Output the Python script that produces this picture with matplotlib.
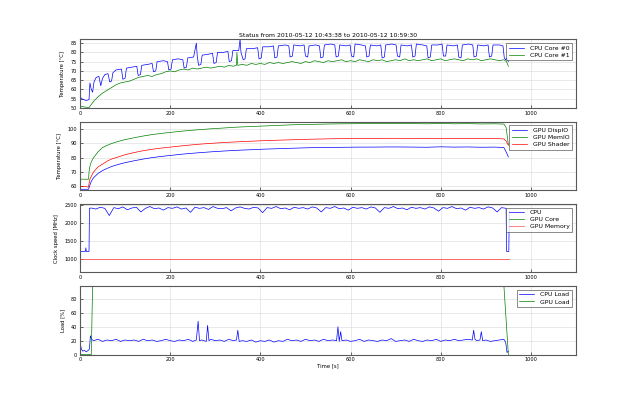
"""CPU/GPU status plot, 2010-05-12 10:43:38 to 10:59:30."""
import matplotlib
matplotlib.use('Agg')
import matplotlib.pyplot as plt

TITLE = 'Status from 2010-05-12 10:43:38 to 2010-05-12 10:59:30'

# --- panel 1: CPU core temperatures ---
core0_t = [0, 4, 8, 14, 20, 22, 25, 28, 31, 36, 42, 46, 50, 55, 62, 66, 70,
           73, 80, 92, 95, 100, 103, 115, 126, 129, 134, 137, 150, 160, 163,
           168, 171, 185, 194, 197, 202, 205, 218, 228, 231, 236, 239, 252,
           258, 260, 263, 268, 271, 285, 294, 297, 302, 305, 318, 328, 331,
           336, 339, 352, 355, 357, 362, 366, 369, 383, 394, 397, 402, 405,
           420, 429, 432, 437, 440, 455, 463, 466, 471, 474, 488, 497, 500,
           505, 508, 522, 531, 534, 539, 542, 556, 565, 568, 573, 576, 590,
           599, 602, 607, 610, 624, 633, 636, 641, 644, 658, 667, 670, 675,
           678, 692, 701, 704, 709, 712, 726, 735, 738, 743, 746, 760, 769,
           772, 777, 780, 794, 803, 806, 811, 814, 828, 837, 840, 845, 848,
           862, 871, 874, 879, 882, 896, 905, 908, 913, 916, 930, 938, 941,
           944, 947, 950]
core0_v = [56.0, 55.0, 54.5, 54.0, 54.5, 63.5, 60.0, 58.5, 64.0, 66.5, 67.0,
           62.0, 66.0, 68.0, 68.5, 64.0, 64.5, 69.0, 70.5, 71.0, 65.5, 66.0,
           71.5, 72.0, 72.5, 67.5, 68.0, 73.0, 73.5, 74.0, 69.5, 70.0, 75.0,
           75.5, 75.0, 70.5, 71.0, 76.0, 76.5, 76.0, 71.5, 72.0, 77.0, 77.5,
           85.0, 78.0, 73.0, 73.5, 78.5, 79.0, 79.5, 74.0, 74.5, 80.0, 80.0,
           80.5, 75.0, 75.5, 81.0, 81.0, 87.0, 80.0, 76.0, 76.5, 82.0, 82.0,
           82.5, 76.5, 77.0, 83.0, 83.0, 83.5, 77.0, 77.5, 83.5, 84.0, 83.5,
           77.5, 78.0, 84.0, 83.5, 84.0, 78.0, 77.5, 83.5, 84.0, 83.5, 77.0,
           77.5, 84.0, 84.5, 84.0, 77.5, 78.0, 84.0, 83.5, 84.0, 78.0, 77.5,
           84.5, 84.0, 83.5, 77.5, 78.0, 84.0, 83.5, 84.0, 77.0, 77.5, 84.0,
           84.5, 84.0, 78.0, 77.5, 84.0, 83.5, 84.0, 77.5, 78.0, 84.5, 84.0,
           83.5, 77.0, 77.5, 84.0, 84.0, 84.5, 78.0, 78.0, 84.0, 83.5, 84.0,
           77.5, 77.0, 84.0, 84.5, 84.0, 77.5, 78.0, 84.0, 83.5, 84.0, 77.5,
           78.0, 84.0, 84.0, 83.5, 77.0, 76.0, 77.0, 75.0]

core1_t = [0, 10, 20, 30, 40, 50, 60, 70, 80, 90, 100, 110, 120, 130, 140,
           150, 160, 170, 180, 190, 200, 210, 220, 230, 240, 250, 260, 270,
           280, 290, 300, 310, 320, 330, 340, 347, 348, 350, 360, 370, 380,
           390, 400, 410, 420, 430, 440, 450, 460, 470, 480, 490, 500, 510,
           520, 530, 540, 550, 560, 570, 580, 590, 600, 610, 620, 630, 640,
           650, 660, 670, 680, 690, 700, 710, 720, 730, 740, 750, 760, 770,
           780, 790, 800, 810, 820, 830, 840, 850, 860, 870, 880, 890, 900,
           910, 920, 930, 940, 946, 950]
core1_v = [51.0, 50.5, 50.2, 53.5, 56.0, 58.0, 59.5, 61.0, 62.5, 63.5, 64.0,
           64.5, 65.5, 66.5, 67.0, 67.5, 67.0, 68.0, 68.5, 69.5, 70.0, 69.5,
           70.5, 71.0, 70.5, 71.5, 71.0, 71.5, 72.0, 71.5, 72.0, 72.5, 72.0,
           73.0, 72.5, 73.0, 80.0, 73.0, 73.5, 73.0, 74.0, 73.5, 74.0, 73.5,
           74.5, 74.0, 74.5, 74.0, 74.5, 75.0, 74.5, 74.0, 75.0, 74.5, 75.5,
           75.0, 74.5, 75.5, 75.0, 75.5, 76.0, 75.0, 75.5, 75.0, 76.0, 75.5,
           75.0, 76.0, 75.5, 76.0, 75.0, 75.5, 76.0, 75.5, 76.5, 75.5, 76.0,
           75.5, 76.0, 76.5, 75.5, 76.0, 76.5, 75.5, 76.0, 76.5, 76.0, 75.5,
           76.5, 76.0, 76.5, 75.5, 76.0, 76.5, 76.0, 75.5, 76.0, 75.0, 72.5]

# --- panel 2: GPU temperatures ---
gpu_t = [0, 10, 19, 20, 22, 25, 30, 40, 50, 60, 70, 80, 90, 100, 120, 140,
         160, 180, 200, 230, 260, 290, 320, 350, 380, 410, 440, 470, 500, 530,
         560, 590, 620, 650, 680, 710, 740, 770, 800, 830, 860, 890, 920, 940,
         945, 950]
gpu_dispio = [58, 58, 58, 59, 61, 63.5, 66, 69, 71, 72.5, 73.8, 74.8, 75.7,
              76.5, 77.8, 79, 80, 80.8, 81.5, 82.5, 83.3, 84, 84.6, 85.1, 85.5,
              85.9, 86.2, 86.5, 86.8, 87, 87.1, 87.2, 87.3, 87.3, 87.4, 87.4,
              87.3, 87.2, 87.5, 87.3, 87.4, 87.2, 87.3, 87.0, 84, 80.5]
gpu_memio = [65, 65, 65, 70, 74, 77, 80, 84, 87, 88.5, 89.8, 90.8, 91.7, 92.5,
             93.8, 95, 96, 96.8, 97.5, 98.5, 99.3, 100, 100.6, 101.2, 101.6,
             102, 102.4, 102.8, 103, 103.2, 103.4, 103.5, 103.6, 103.6, 103.7,
             103.7, 103.6, 103.5, 103.7, 103.5, 103.6, 103.4, 103.5, 103.3,
             101, 89]
gpu_shader = [60, 60, 59.5, 62, 65, 67, 70, 73.5, 75.5, 77.5, 79, 80, 81, 82,
              83.5, 84.8, 85.8, 86.6, 87.3, 88.3, 89.2, 89.9, 90.5, 91, 91.4,
              91.8, 92.1, 92.4, 92.7, 92.9, 93.1, 93.2, 93.3, 93.3, 93.4, 93.4,
              93.3, 93.2, 93.4, 93.3, 93.3, 93.2, 93.3, 93.0, 91.5, 88.5]

# --- panel 3: clock speeds ---
cpu_clk_t = [0, 1, 12, 13, 14, 20, 21] + list(range(25, 946, 10)) + [946, 951, 952]
cpu_clk_v = ([2450, 1200, 1200, 1300, 1200, 1200, 2400] +
             [2410, 2380, 2430, 2400, 2200, 2420, 2390, 2440, 2360, 2410,
              2430, 2300, 2400, 2450, 2390, 2410, 2350, 2420, 2400, 2440,
              2380, 2410, 2290, 2430, 2400, 2420, 2370, 2450, 2400, 2390,
              2420, 2330, 2410, 2440, 2400, 2380, 2430, 2410, 2280, 2420,
              2400, 2450, 2390, 2410, 2360, 2430, 2400, 2420, 2380, 2440,
              2410, 2300, 2420, 2400, 2450, 2390, 2410, 2350, 2430, 2400,
              2420, 2380, 2440, 2410, 2290, 2420, 2400, 2450, 2390, 2410,
              2360, 2430, 2400, 2420, 2380, 2440, 2410, 2320, 2420, 2400,
              2450, 2390, 2410, 2350, 2430, 2400, 2420, 2380, 2440, 2410,
              2300, 2420, 2400] +
             [1200, 1200, 2350])
gpu_clk_t = [0, 952]
gpu_core_clk = [1000, 1000]
gpu_mem_clk = [1000, 1000]

# --- panel 4: load ---
cpu_load_t = [0, 3, 6, 10, 14, 18, 21, 23, 26, 30, 40, 50, 60, 70, 80, 90,
              100, 110, 120, 130, 140, 150, 160, 170, 180, 190, 200, 210, 220,
              230, 240, 250, 258, 262, 265, 270, 280, 283, 286, 290, 300, 310,
              320, 330, 340, 347, 350, 353, 360, 370, 380, 390, 400, 410, 420,
              430, 440, 450, 460, 470, 480, 490, 500, 510, 520, 530, 540, 550,
              560, 569, 572, 575, 578, 581, 590, 600, 610, 620, 630, 640, 650,
              660, 670, 680, 690, 700, 710, 720, 730, 740, 750, 760, 770, 780,
              790, 800, 810, 820, 830, 840, 850, 860, 870, 873, 876, 880, 887,
              890, 893, 900, 910, 920, 930, 940, 944, 947, 950]
cpu_load = [17, 8, 5, 6, 4, 6, 8, 27, 22, 20, 22, 19, 21, 20, 22, 19, 21, 20,
            21, 19, 22, 20, 21, 19, 20, 22, 20, 19, 21, 20, 22, 19, 21, 48, 20,
            21, 19, 42, 20, 22, 20, 21, 19, 22, 20, 21, 35, 19, 20, 19, 21, 18,
            20, 19, 21, 18, 20, 19, 22, 20, 21, 19, 22, 20, 21, 19, 22, 20, 21,
            20, 40, 19, 33, 20, 21, 19, 20, 22, 19, 21, 20, 19, 21, 20, 23, 19,
            20, 21, 19, 22, 20, 19, 21, 20, 22, 19, 21, 20, 22, 20, 21, 22, 21,
            35, 22, 20, 21, 33, 20, 21, 19, 20, 21, 22, 18, 3, 5]
gpu_load_t = [0, 25, 28, 940, 950]
gpu_load = [0, 0, 100, 100, 0]

FS_TICK = 3.6
FS_LABEL = 3.8
FS_LEG = 4.4
LW = 0.5

fig, axes = plt.subplots(4, 1, figsize=(6.4, 3.94), dpi=100)
fig.subplots_adjust(left=0.125, right=0.9, bottom=0.1, top=0.9, hspace=0.2)

ax = axes[0]
ax.plot(core0_t, core0_v, color='b', lw=LW, label='CPU Core #0')
ax.plot(core1_t, core1_v, color='g', lw=LW, label='CPU Core #1')
ax.set_ylim(50, 87)
ax.set_yticks(range(50, 86, 5))
ax.set_ylabel('Temperature [°C]', fontsize=FS_LABEL)
ax.set_title(TITLE, fontsize=4.4, pad=2)

ax = axes[1]
ax.plot(gpu_t, gpu_dispio, color='b', lw=LW, label='GPU DispIO')
ax.plot(gpu_t, gpu_memio, color='g', lw=LW, label='GPU MemIO')
ax.plot(gpu_t, gpu_shader, color='r', lw=LW, label='GPU Shader')
ax.set_ylim(57.4, 105)
ax.set_yticks(range(60, 101, 10))
ax.set_ylabel('Temperature [°C]', fontsize=FS_LABEL)

ax = axes[2]
ax.plot(cpu_clk_t, cpu_clk_v, color='b', lw=LW, label='CPU')
# GPU core clock is hidden under the memory clock line in the plot
ax.plot(gpu_clk_t, gpu_core_clk, color='g', ls='none', label='GPU Core')
ax.plot(gpu_clk_t, gpu_mem_clk, color='#ff5050', lw=0.6, label='GPU Memory')
ax.set_ylim(617, 2525)
ax.set_yticks(range(1000, 2501, 500))
ax.set_ylabel('Clock speed [MHz]', fontsize=FS_LABEL)

ax = axes[3]
ax.plot(cpu_load_t, cpu_load, color='b', lw=LW, label='CPU Load')
ax.plot(gpu_load_t, gpu_load, color='g', lw=LW, label='GPU Load')
ax.set_ylim(0, 98.5)
ax.set_yticks(range(0, 81, 20))
ax.set_ylabel('Load [%]', fontsize=FS_LABEL)
ax.set_xlabel('Time [s]', fontsize=FS_LABEL, labelpad=1)

for ax in axes:
    ax.set_xlim(0, 1100)
    ax.set_xticks(range(0, 1001, 200))
    ax.grid(True, color='0.85', lw=0.4)
    ax.set_axisbelow(True)
    ax.tick_params(labelsize=FS_TICK, length=2, width=0.4, direction='in', pad=2)
    for s in ax.spines.values():
        s.set_color('0.35')
        s.set_linewidth(0.8)
    leg = ax.legend(loc='upper right', fontsize=FS_LEG, handlelength=2.5,
                    fancybox=False, borderaxespad=0.6, labelspacing=0.3,
                    borderpad=0.4, handletextpad=1.0)
    leg.get_frame().set_edgecolor('0.2')
    leg.get_frame().set_linewidth(0.5)
    for line in leg.get_lines():
        line.set_linestyle('-')
        line.set_linewidth(0.5)

fig.savefig('out.png', dpi=100, facecolor='white')
